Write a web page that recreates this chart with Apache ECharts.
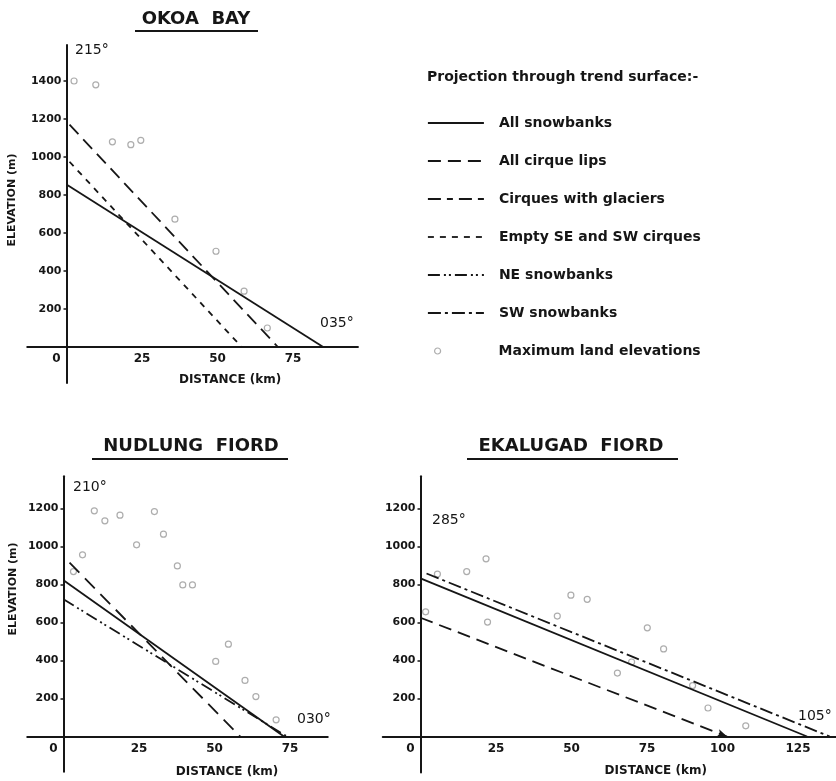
<!DOCTYPE html>
<html>
<head>
<meta charset="utf-8">
<title>Projection through trend surface</title>
<script src="https://cdn.jsdelivr.net/npm/echarts@6/dist/echarts.min.js"></script>
<style>
html, body { margin: 0; padding: 0; background: #fff; }
#chart { width: 836px; height: 781px; }
</style>
</head>
<body>
<div id="chart"></div>
<script>
// Okoa Bay (215° -> 035°)
var okoaPeakKm = [2.5, 9.7, 15.2, 21.3, 24.6, 35.9, 49.5, 58.8, 66.5];
var okoaPeakM = [1400, 1380, 1080, 1065, 1088, 673, 504, 294, 100];
var okoaSnowbanks = [[0, 855], [85, 0]];
var okoaCirqueLips = [[1, 1170], [70, 0]];
var okoaEmptyCirques = [[1, 975], [58, 0]];

// Nudlung Fiord (210° -> 030°)
var nudlungPeakKm = [3.3, 6.3, 10.2, 13.7, 18.7, 24.2, 30.1, 33.1, 37.7, 39.5, 42.7, 50.4, 54.6, 60.1, 63.7, 70.4];
var nudlungPeakM = [868, 956, 1188, 1135, 1165, 1009, 1184, 1065, 898, 798, 798, 395, 486, 295, 210, 88];
var nudlungSnowbanks = [[0, 822], [73, 0]];
var nudlungGlacierCirques = [[2, 915], [58.5, 0]];
var nudlungNESnowbanks = [[0, 722], [74, 0]];

// Ekalugad Fiord (285° -> 105°)
var ekalugadPeakKm = [1.7, 5.6, 15.3, 21.7, 22.2, 45.3, 49.8, 55.2, 65.2, 69.9, 75.1, 80.5, 90.1, 95.2, 107.7];
var ekalugadPeakM = [656, 855, 868, 935, 602, 634, 744, 722, 334, 392, 572, 461, 268, 150, 56];
var ekalugadSnowbanks = [[0, 832], [128, 0]];
var ekalugadSWSnowbanks = [[2, 858], [135.5, 0]];
var ekalugadCirqueLips = [[0, 625], [101.5, 0]];

// tick labels
var okoaElevTicks = [200, 400, 600, 800, 1000, 1200, 1400];
var fiordElevTicks = [200, 400, 600, 800, 1000, 1200];
var shortDistTicks = [0, 25, 50, 75];
var longDistTicks = [0, 25, 50, 75, 100, 125];

var legendNames = ['All snowbanks', 'All cirque lips', 'Cirques with glaciers',
    'Empty SE and SW cirques', 'NE snowbanks', 'SW snowbanks'];
var pointsName = 'Maximum land elevations';

var INK = '#161616';
var FONT = '"DejaVu Sans", sans-serif';

var dashes = {
    'All snowbanks': 'solid',
    'All cirque lips': [13, 7],
    'Cirques with glaciers': [14, 8],
    'Empty SE and SW cirques': [6, 6],
    'NE snowbanks': [12, 4, 2, 3, 2, 4],
    'SW snowbanks': [13, 4, 3, 4]
};

// layout: same km / m scale in every panel, origin given in pixels
var kmPx = 3.02, mPx = 0.19;
var panels = [
    {ox: 66.5, oy: 347, x: [-13, 96.5], y: [-190, 1590]},
    {ox: 63.5, oy: 736.5, x: [-12, 87.5], y: [-185, 1370]},
    {ox: 420.5, oy: 736.5, x: [-12.5, 137.5], y: [-190, 1370]}
];

function gridOf(p) {
    return {
        outerBoundsMode: 'none', containLabel: false,
        left: p.ox + p.x[0] * kmPx,
        top: p.oy - p.y[1] * mPx,
        width: (p.x[1] - p.x[0]) * kmPx,
        height: (p.y[1] - p.y[0]) * mPx
    };
}

// axes cross at the origin: shift them in from the grid edge
function distAxis(i, ticks, gap, shift) {
    var p = panels[i];
    return {
        type: 'value', gridIndex: i, min: p.x[0], max: p.x[1],
        position: 'bottom', offset: p.y[0] * mPx,
        splitLine: {show: false},
        axisLine: {onZero: false, lineStyle: {color: INK, width: 2}},
        axisTick: {show: false},
        axisLabel: {
            customValues: ticks, margin: 6, color: INK,
            fontFamily: FONT, fontWeight: 'bold', fontSize: 12,
            formatter: function (v) { return v === 0 ? '{z|0}' : String(v); },
            rich: {z: {padding: [0, 20, 0, 0], color: INK, fontFamily: FONT, fontWeight: 'bold', fontSize: 12}}
        },
        name: 'DISTANCE (km)', nameLocation: 'middle', nameGap: gap,
        nameTextStyle: {color: INK, fontFamily: FONT, fontWeight: 'bold', fontSize: 12, padding: [0, 0, 0, shift]}
    };
}

function elevAxis(i, ticks, showName, gap, shift) {
    var p = panels[i];
    return {
        type: 'value', gridIndex: i, min: p.y[0], max: p.y[1],
        position: 'left', offset: p.x[0] * kmPx,
        splitLine: {show: false},
        axisLine: {onZero: false, lineStyle: {color: INK, width: 2}},
        axisTick: {show: true, customValues: ticks, length: 3, lineStyle: {color: INK, width: 1.5}},
        axisLabel: {
            customValues: ticks, margin: 5, color: INK, fontFamily: FONT, fontWeight: 'bold', fontSize: 11,
            formatter: function (v) { return String(v); }
        },
        name: showName ? 'ELEVATION (m)' : '', nameLocation: 'middle', nameGap: gap, nameRotate: 90,
        nameTextStyle: {color: INK, fontFamily: FONT, fontWeight: 'bold', fontSize: 11, padding: [0, 0, 0, shift]}
    };
}

function profile(name, i, data) {
    return {
        type: 'line', name: name, xAxisIndex: i, yAxisIndex: i, data: data,
        symbol: 'none', showSymbol: true, silent: true, z: 3,
        itemStyle: {color: INK},
        lineStyle: {color: INK, width: 1.8, type: dashes[name], cap: 'butt'}
    };
}

function peaks(i, km, m) {
    return {
        type: 'scatter', name: pointsName, xAxisIndex: i, yAxisIndex: i,
        data: km.map(function (x, k) { return [x, m[k]]; }),
        symbol: 'circle', symbolSize: 6, silent: true, z: 2,
        itemStyle: {color: 'rgba(255,255,255,0)', borderColor: '#989898', borderWidth: 1.2}
    };
}

// dashed Ekalugad profile ends in an arrow head
var ekalugadLips = profile('All cirque lips', 2, [
    ekalugadCirqueLips[0],
    {value: ekalugadCirqueLips[1], symbol: 'arrow', symbolSize: [6, 10], symbolRotate: -111}
]);

function label(text, x, y, font, align) {
    return {
        type: 'text', x: x, y: y, silent: true,
        style: {text: text, font: font, fill: INK, align: align, textAlign: align,
            verticalAlign: 'middle', textVerticalAlign: 'middle'}
    };
}
function rule(x1, x2, y) {
    return {type: 'line', silent: true, shape: {x1: x1, y1: y, x2: x2, y2: y}, style: {stroke: INK, lineWidth: 2}};
}

var titleFont = 'bold 18px "DejaVu Sans"';
var bearingFont = '14px "DejaVu Sans"';

var chart = echarts.init(document.getElementById('chart'));
chart.setOption({
    backgroundColor: '#ffffff',
    animation: false,
    grid: panels.map(gridOf),
    xAxis: [distAxis(0, shortDistTicks, 27, 75), distAxis(1, shortDistTicks, 29, 99), distAxis(2, longDistTicks, 28, 93)],
    yAxis: [elevAxis(0, okoaElevTicks, true, 49, 28), elevAxis(1, fiordElevTicks, true, 45, 70), elevAxis(2, fiordElevTicks, false, 45, 0)],
    legend: [{
        data: legendNames.map(function (n) {
            return n === 'Cirques with glaciers' ? {name: n, lineStyle: {type: [13, 6, 6, 6]}} : n;
        }),
        orient: 'vertical', left: 427, top: 116, padding: 0,
        itemWidth: 56, itemHeight: 14, itemGap: 24, selectedMode: false,
        itemStyle: {opacity: 0},
        lineStyle: {width: 1.8},
        textStyle: {color: INK, fontFamily: FONT, fontWeight: 'bold', fontSize: 14, lineHeight: 14, padding: [0, 0, 0, 10]}
    }, {
        data: [pointsName],
        orient: 'vertical', left: 434, top: 344, padding: 0,
        itemWidth: 6, itemHeight: 6, selectedMode: false,
        itemStyle: {borderWidth: 1.2},
        textStyle: {color: INK, fontFamily: FONT, fontWeight: 'bold', fontSize: 14, lineHeight: 14, padding: [0, 0, 0, 53]}
    }],
    graphic: [
        label('OKOA  BAY', 196, 19, titleFont, 'center'), rule(135, 258, 31),
        label('NUDLUNG  FIORD', 191, 446, titleFont, 'center'), rule(92, 288, 459),
        label('EKALUGAD  FIORD', 571, 446, titleFont, 'center'), rule(467, 678, 459),
        label('215°', 75, 50, bearingFont, 'left'),
        label('035°', 320, 323, bearingFont, 'left'),
        label('210°', 73, 487, bearingFont, 'left'),
        label('030°', 297, 719, bearingFont, 'left'),
        label('285°', 432, 520, bearingFont, 'left'),
        label('105°', 798, 716, bearingFont, 'left'),
        label('Projection through trend surface:-', 427, 77, 'bold 14px "DejaVu Sans"', 'left')
    ],
    series: [
        peaks(0, okoaPeakKm, okoaPeakM),
        profile('All snowbanks', 0, okoaSnowbanks),
        profile('All cirque lips', 0, okoaCirqueLips),
        profile('Empty SE and SW cirques', 0, okoaEmptyCirques),
        peaks(1, nudlungPeakKm, nudlungPeakM),
        profile('All snowbanks', 1, nudlungSnowbanks),
        profile('Cirques with glaciers', 1, nudlungGlacierCirques),
        profile('NE snowbanks', 1, nudlungNESnowbanks),
        peaks(2, ekalugadPeakKm, ekalugadPeakM),
        profile('All snowbanks', 2, ekalugadSnowbanks),
        profile('SW snowbanks', 2, ekalugadSWSnowbanks),
        ekalugadLips
    ]
});
</script>
</body>
</html>
